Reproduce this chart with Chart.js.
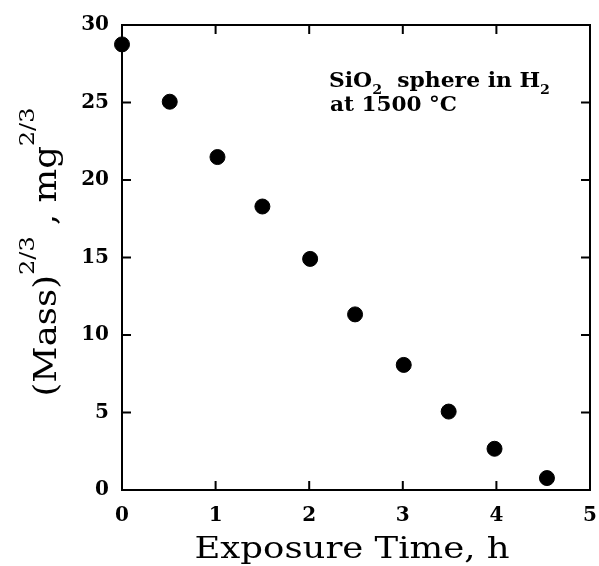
<!DOCTYPE html>
<html>
<head>
<meta charset="utf-8">
<script src="https://cdn.jsdelivr.net/npm/chart.js@4.4.1/dist/chart.umd.min.js"></script>
<style>
  body { margin: 0; background: #fff; }
  #wrap { width: 599px; height: 566px; }
</style>
</head>
<body>
<div id="wrap"><canvas id="massChart" width="599" height="566"></canvas></div>
<script>
// exposure time (h) vs (mass)^(2/3) (mg^(2/3))
const timeHours = [0, 0.51, 1.02, 1.50, 2.01, 2.49, 3.01, 3.49, 3.98, 4.54];
const massTwoThirds = [28.75, 25.05, 21.48, 18.29, 14.91, 11.33, 8.07, 5.06, 2.66, 0.77];
const xTicks = [0, 1, 2, 3, 4, 5];
const yTicks = [0, 5, 10, 15, 20, 25, 30];

const SERIF = "'DejaVu Serif', 'Liberation Serif', serif";

// draws a run of text pieces with sub/superscript offsets;
// if fitWidth is given the run is stretched sideways to that width
function drawPieces(ctx, pieces, x, y, align, fitWidth) {
    let total = 0;
    pieces.forEach(p => { ctx.font = p.font; total += ctx.measureText(p.t).width; });
    const k = fitWidth ? fitWidth / total : 1;
    ctx.save();
    ctx.translate(x, y);
    ctx.scale(k, 1);
    let cx = align === 'center' ? -total / 2 : 0;
    ctx.textAlign = 'left';
    ctx.textBaseline = 'alphabetic';
    pieces.forEach(p => {
        ctx.font = p.font;
        ctx.fillText(p.t, cx, p.dy || 0);
        cx += ctx.measureText(p.t).width;
    });
    ctx.restore();
}

// frame with inward ticks on all four sides, plus titles and the note
const framePlugin = {
    id: 'frame',
    beforeDatasetsDraw(chart) {
        const ctx = chart.ctx;
        const a = chart.chartArea;
        const xs = chart.scales.x, ys = chart.scales.y;
        const tick = 9;
        ctx.save();
        ctx.strokeStyle = '#000';
        ctx.lineWidth = 2;
        ctx.strokeRect(a.left, a.top, a.right - a.left, a.bottom - a.top);
        ctx.beginPath();
        xTicks.forEach(v => {
            const px = xs.getPixelForValue(v);
            ctx.moveTo(px, a.bottom); ctx.lineTo(px, a.bottom - tick);
            ctx.moveTo(px, a.top); ctx.lineTo(px, a.top + tick);
        });
        yTicks.forEach(v => {
            const py = ys.getPixelForValue(v);
            ctx.moveTo(a.left, py); ctx.lineTo(a.left + tick, py);
            ctx.moveTo(a.right, py); ctx.lineTo(a.right - tick, py);
        });
        ctx.stroke();
        ctx.restore();
    },
    afterDraw(chart) {
        const ctx = chart.ctx;
        ctx.save();
        ctx.fillStyle = '#000';

        // x title
        drawPieces(ctx, [{ t: 'Exposure Time, h', font: '30px ' + SERIF }], 352, 558, 'center', 315);

        // y title, rotated
        ctx.save();
        ctx.translate(56, 252);
        ctx.rotate(-Math.PI / 2);
        const big = '31px ' + SERIF, sup = '21px ' + SERIF;
        drawPieces(ctx, [
            { t: '(Mass)', font: big },
            { t: '2/3', font: sup, dy: -22 },
            { t: ' , ', font: big },
            { t: 'mg', font: big },
            { t: '2/3', font: sup, dy: -22 }
        ], 0, 0, 'center', 289);
        ctx.restore();

        // note in the upper right
        const note = 'bold 20px ' + SERIF, sub = 'bold 13px ' + SERIF;
        drawPieces(ctx, [
            { t: 'SiO', font: note },
            { t: '2', font: sub, dy: 7 },
            { t: '  sphere in H', font: note },
            { t: '2', font: sub, dy: 7 }
        ], 329, 87, 'left', 221);
        drawPieces(ctx, [{ t: 'at 1500 °C', font: note }], 330, 111, 'left', 127);
        ctx.restore();
    }
};

const points = timeHours.map((t, i) => ({ x: t, y: massTwoThirds[i] }));

new Chart(document.getElementById('massChart'), {
    type: 'scatter',
    data: {
        datasets: [{
            data: points,
            backgroundColor: '#000',
            borderColor: '#000',
            pointRadius: 7.5,
            pointHoverRadius: 7.5,
            clip: false
        }]
    },
    options: {
        responsive: false,
        animation: false,
        layout: { padding: { top: 25, right: 9, left: 0, bottom: 0 } },
        plugins: { legend: { display: false }, tooltip: { enabled: false } },
        scales: {
            x: {
                type: 'linear',
                min: 0, max: 5,
                afterBuildTicks: s => { s.ticks = xTicks.map(v => ({ value: v })); },
                afterFit: s => { s.height = 76; s.paddingLeft = 0; s.paddingRight = 0; },
                grid: { display: false, drawTicks: false },
                border: { display: false },
                ticks: { color: '#000', padding: 14, font: { family: SERIF, size: 20, weight: 'bold' } }
            },
            y: {
                type: 'linear',
                min: 0, max: 30,
                afterBuildTicks: s => { s.ticks = yTicks.map(v => ({ value: v })); },
                afterFit: s => { s.width = 122; s.paddingTop = 0; s.paddingBottom = 0; },
                grid: { display: false, drawTicks: false },
                border: { display: false },
                ticks: { color: '#000', padding: 13, font: { family: SERIF, size: 20, weight: 'bold' } }
            }
        }
    },
    plugins: [framePlugin]
});
</script>
</body>
</html>
